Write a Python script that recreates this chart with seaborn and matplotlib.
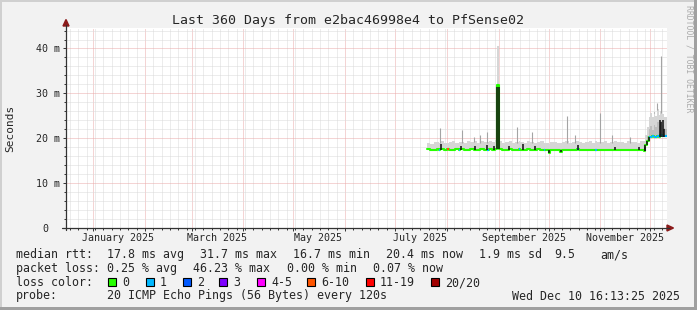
import datetime as dt
import numpy as np
import pandas as pd
import matplotlib
matplotlib.use("Agg")
import matplotlib.pyplot as plt
import matplotlib.dates as mdates
import matplotlib.ticker as mticker
from matplotlib.patches import Rectangle, Polygon
from matplotlib.lines import Line2D
from matplotlib.transforms import ScaledTranslation, blended_transform_factory
import seaborn as sns

# ---------------- data ----------------
sample_dates = [
    "2025-07-20", "2025-07-22", "2025-07-24", "2025-07-26", "2025-07-27", "2025-07-28",
    "2025-07-30", "2025-08-01", "2025-08-02", "2025-08-04", "2025-08-06", "2025-08-08",
    "2025-08-09", "2025-08-11", "2025-08-13", "2025-08-15", "2025-08-17", "2025-08-19",
    "2025-08-21", "2025-08-23", "2025-08-25", "2025-08-26", "2025-08-28", "2025-08-30",
    "2025-08-31", "2025-09-01", "2025-09-03", "2025-09-05", "2025-09-07", "2025-09-09",
    "2025-09-11", "2025-09-13", "2025-09-14", "2025-09-16", "2025-09-18", "2025-09-20",
    "2025-09-22", "2025-09-24", "2025-09-26", "2025-09-28", "2025-09-29", "2025-10-01",
    "2025-10-02", "2025-10-04", "2025-10-06", "2025-10-08", "2025-10-09", "2025-10-11",
    "2025-10-13", "2025-10-15", "2025-10-17", "2025-10-18", "2025-10-19", "2025-10-21",
    "2025-10-23", "2025-10-25", "2025-10-27", "2025-10-29", "2025-10-30", "2025-11-01",
    "2025-11-03", "2025-11-05", "2025-11-07", "2025-11-09", "2025-11-11", "2025-11-13",
    "2025-11-15", "2025-11-17", "2025-11-19", "2025-11-21", "2025-11-23", "2025-11-25",
    "2025-11-27", "2025-11-28", "2025-11-29", "2025-11-30", "2025-12-01", "2025-12-02",
    "2025-12-03", "2025-12-04", "2025-12-05", "2025-12-06", "2025-12-07", "2025-12-08",
    "2025-12-09", "2025-12-10",
]
median_ms = [
    17.5, 17.4, 17.4, 17.5, 17.4, 17.6,
    17.4, 17.5, 17.4, 17.4, 17.5, 17.4,
    17.5, 17.4, 17.4, 17.5, 17.4, 17.4,
    17.5, 17.4, 17.4, 17.5, 17.4, 17.6,
    31.8, 17.5, 17.4, 17.4, 17.5, 17.4,
    17.4, 17.5, 17.4, 17.4, 17.5, 17.4,
    17.4, 17.5, 17.4, 17.4, 17.3, 16.7,
    17.3, 17.4, 17.4, 16.9, 17.3, 17.4,
    17.4, 17.3, 17.4, 17.5, 17.4, 17.3,
    17.4, 17.4, 17.3, 17.4, 17.4, 17.3,
    17.4, 17.4, 17.4, 17.3, 17.4, 17.4,
    17.3, 17.4, 17.4, 17.3, 17.4, 17.3,
    17.2, 18.4, 19.4, 20.3, 20.3, 20.4,
    20.3, 20.3, 20.4, 20.3, 20.8, 20.4,
    20.4, 20.4,
]
smoke_top_ms = [
    19.0, 18.7, 19.1, 19.2, 19.0, 19.3,
    18.9, 19.0, 19.2, 19.4, 18.9, 19.1,
    19.2, 19.0, 19.3, 19.1, 19.4, 19.0,
    19.3, 19.2, 19.1, 19.4, 19.2, 19.5,
    40.6, 19.3, 19.0, 19.2, 19.4, 19.0,
    19.2, 19.3, 19.1, 19.0, 19.3, 19.2,
    18.9, 19.1, 19.3, 19.0, 19.0, 18.6,
    19.1, 19.2, 18.9, 18.8, 19.1, 19.3,
    19.0, 19.2, 19.3, 19.4, 19.1, 19.0,
    19.2, 19.3, 19.0, 19.4, 19.2, 19.1,
    19.3, 19.0, 19.2, 19.3, 19.1, 19.2,
    19.0, 19.3, 19.1, 19.2, 19.0, 19.4,
    19.3, 20.6, 22.5, 24.8, 25.5, 24.6,
    25.8, 25.0, 26.5, 25.2, 26.0, 25.4,
    24.8, 24.6,
]
loss_pings = [
    0, 0, 0, 0, 1, 0,
    0, 7, 0, 0, 0, 1,
    0, 0, 0, 0, 0, 0,
    0, 0, 1, 0, 0, 0,
    0, 0, 0, 0, 0, 0,
    0, 1, 0, 0, 0, 0,
    0, 0, 0, 1, 0, 0,
    0, 0, 0, 0, 0, 0,
    0, 0, 0, 1, 0, 0,
    0, 0, 0, 1, 0, 0,
    0, 0, 0, 0, 0, 0,
    0, 0, 0, 0, 0, 0,
    0, 0, 0, 1, 1, 1,
    1, 1, 1, 1, 1, 1,
    1, 1,
]
core_dates = ["2025-11-29", "2025-11-30", "2025-12-01", "2025-12-02", "2025-12-03", "2025-12-04",
              "2025-12-05", "2025-12-06", "2025-12-07", "2025-12-08", "2025-12-09", "2025-12-10"]
core_top_ms = [20.4, 22.0, 22.6, 21.8, 23.0, 22.4, 23.5, 22.8, 23.8, 23.0, 22.2, 22.0]

spike_dates = ["2025-07-28", "2025-08-10", "2025-08-17", "2025-08-21", "2025-08-25",
               "2025-09-12", "2025-09-21", "2025-10-12", "2025-10-17", "2025-11-01",
               "2025-11-08", "2025-11-19", "2025-12-03", "2025-12-05", "2025-12-07 08:00"]
spike_top_ms = [22.2, 21.8, 20.3, 20.6, 21.4, 22.5, 21.3, 25.0, 20.6, 25.5,
                20.6, 20.3, 25.8, 27.8, 38.3]

dark_dates = ["2025-07-28 12:00", "2025-08-09 08:00", "2025-08-17 18:00", "2025-08-24 20:00",
              "2025-08-29", "2025-08-31", "2025-09-01", "2025-09-07 12:00",
              "2025-09-15 12:00", "2025-09-22 16:00", "2025-10-01 12:00", "2025-10-08 12:00",
              "2025-10-18 12:00", "2025-11-10", "2025-11-24 10:00", "2025-11-27 12:00",
              "2025-11-28", "2025-11-29", "2025-11-30", "2025-12-06 12:00", "2025-12-07 12:00",
              "2025-12-08 12:00", "2025-12-09"]
dark_lo_ms = [17.4, 17.4, 17.4, 17.4, 17.4, 17.6, 17.5, 17.4, 17.4, 17.4, 16.6, 16.9,
              17.4, 17.4, 17.3, 17.2, 17.2, 18.4, 19.4, 20.3, 20.3, 20.3, 20.3]
dark_hi_ms = [18.6, 18.3, 18.2, 18.4, 18.3, 31.5, 31.5, 18.2, 18.6, 18.2, 17.4, 17.4,
              18.4, 18.0, 18.0, 18.0, 18.4, 19.4, 20.3, 24.0, 23.5, 24.0, 22.0]

loss_labels = ["0", "1", "2", "3", "4-5", "6-10", "11-19", "20/20"]
loss_colors = ["#26ff00", "#00b8ff", "#0059ff", "#7e00ff", "#ff00ff", "#ff5500", "#ff0000", "#a10000"]
loss_upper = [0, 1, 2, 3, 5, 10, 19, 20]

month_labels = ["January 2025", "March 2025", "May 2025", "July 2025", "September 2025", "November 2025"]
month_label_dates = ["2025-01-16", "2025-03-16", "2025-05-16", "2025-07-16", "2025-09-16", "2025-11-16"]
ytick_values = [0, 10, 20, 30, 40]
ytick_labels = ["0", "10 m", "20 m", "30 m", "40 m"]

title = "Last 360 Days from e2bac46998e4 to PfSense02"
line_rtt = [("median rtt:", 16), ("17.8 ms avg", 107.3), ("31.7 ms max", 200),
            ("16.7 ms min", 293.3), ("20.4 ms now", 386), ("1.9 ms sd", 479.3),
            ("9.5", 554), ("am/s", 600)]
line_loss = [("packet loss:", 16), ("0.25 % avg", 107.3), ("46.23 % max", 193.5),
             ("0.00 % min", 286.7), ("0.07 % now", 373.3)]
probe_text = "20 ICMP Echo Pings (56 Bytes) every 120s"
stamp_text = "Wed Dec 10 16:13:25 2025"


def to_dt(s):
    return pd.to_datetime(s, format="mixed")


# ---------------- style ----------------
sns.set_style("white")
plt.rcParams["font.family"] = ["DejaVu Sans Mono", "DejaVu Sans"]

W, H = 697, 310
BG = "#F2F2F2"
AXIS = "#333333"
ARROW = "#8B1A1A"
GRID = "#DADADA"
MGRID = "#EBAAAA"
SMOKE = "#D6D6D6"
TXT = 8.4


def fx(px):
    return px / W


def fy(py):
    return 1 - py / H


fig = plt.figure(figsize=(W / 100, H / 100), dpi=100, facecolor=BG)
X0, X1, Y0, Y1 = 66, 666.5, 227.7, 28
ax = fig.add_axes([fx(X0), fy(Y0), (X1 - X0) / W, (Y0 - Y1) / H])
ax.set_facecolor("white")
t_start = dt.datetime(2024, 12, 15, 16, 13, 25)
t_end = dt.datetime(2025, 12, 10, 16, 13, 25)
for s in ax.spines.values():
    s.set_visible(False)

# ---------------- data marks ----------------
d = list(to_dt(sample_dates))
d_ext = d + [pd.Timestamp(t_end)]
med = np.array(median_ms)
top = np.array(smoke_top_ms)
med_ext = np.r_[med, med[-1]]
top_ext = np.r_[top, top[-1]]
ax.fill_between(d_ext, med_ext - 0.15, top_ext, step="post", color=SMOKE, lw=0, zorder=2)

cd_list = list(to_dt(core_dates))
cd = cd_list + [pd.Timestamp(t_end)]
core = np.array(core_top_ms)
core_base = np.array([med[d.index(c)] for c in cd_list])
ax.fill_between(cd, np.r_[core_base, core_base[-1]], np.r_[core, core[-1]], step="post",
                color="#BDBDBD", lw=0, zorder=2.1)

sd = to_dt(spike_dates)
idx = np.searchsorted(np.array(d, dtype="datetime64[ns]"), sd.values, side="right") - 1
ax.vlines(sd, top[idx] - 0.3, spike_top_ms, color="#A4A4A4", lw=0.8, zorder=2.2)

med_df = pd.DataFrame({"t": d_ext, "ms": med_ext})
sns.lineplot(data=med_df, x="t", y="ms", drawstyle="steps-post", color=loss_colors[0],
             lw=1.5, ax=ax, zorder=4)


def loss_color(n):
    for up, c in zip(loss_upper, loss_colors):
        if n <= up:
            return c
    return loss_colors[-1]


for i, n in enumerate(loss_pings):
    if n > 0:
        ax.hlines(med[i], d_ext[i], d_ext[i + 1], color=loss_color(n), lw=1.5, zorder=5)

ax.vlines(to_dt(dark_dates), dark_lo_ms, dark_hi_ms, color="#151515", lw=1.15, zorder=6)

ax.set_xlabel("")
ax.set_ylabel("")
ax.set_xlim(t_start, t_end)
ax.set_ylim(0, (Y0 - Y1) / 4.48)

# ---------------- grid & ticks ----------------
month_starts = pd.date_range("2025-01-01", "2025-12-01", freq="MS")
five_days = pd.date_range("2024-12-18", "2025-12-12", freq="5D")
ax.xaxis.set_major_locator(mticker.FixedLocator(mdates.date2num(month_starts)))
ax.xaxis.set_minor_locator(mticker.FixedLocator(mdates.date2num(five_days)))
ax.xaxis.set_major_formatter(mticker.NullFormatter())
ax.xaxis.set_minor_formatter(mticker.NullFormatter())
ax.yaxis.set_major_locator(mticker.FixedLocator(ytick_values))
ax.yaxis.set_minor_locator(mticker.FixedLocator([v for v in range(2, 45, 2) if v % 10]))
ax.grid(which="minor", color=GRID, ls=(0, (1, 1)), lw=0.72)
ax.grid(which="major", color=MGRID, ls=(0, (1, 1)), lw=0.72)
ax.set_axisbelow(True)
ax.tick_params(which="major", direction="out", length=2.2, width=0.7, color=AXIS,
               labelsize=7.2, pad=2.2, left=True, bottom=True, labelbottom=False)
ax.tick_params(which="minor", direction="out", length=1.4, width=0.7, color=AXIS,
               left=True, bottom=True)
ax.set_yticklabels(ytick_labels, fontfamily="DejaVu Sans Mono", fontsize=7.2)
for lab in ax.get_yticklabels():
    if lab.get_text() == "0":
        lab.set_transform(lab.get_transform() + ScaledTranslation(-12 / 100, 0, fig.dpi_scale_trans))

# x labels (mid-month, every two months)
trans = blended_transform_factory(ax.transData, ax.transAxes)
for lab, dd in zip(month_labels, month_label_dates):
    ax.text(pd.Timestamp(dd), (Y0 - 238) / (Y0 - Y1), lab, transform=trans, ha="center",
            va="center", fontsize=7.2)

# ---------------- axes lines and arrows ----------------
fig.add_artist(Line2D([fx(62), fx(669)], [fy(228), fy(228)], color=AXIS, lw=0.9))
fig.add_artist(Line2D([fx(66), fx(66)], [fy(230), fy(25)], color=AXIS, lw=0.9))
fig.add_artist(Polygon([(fx(667), fy(225)), (fx(667), fy(231)), (fx(673.5), fy(228))],
                       closed=True, color=ARROW, transform=fig.transFigure))
fig.add_artist(Polygon([(fx(63), fy(26)), (fx(69), fy(26)), (fx(66), fy(19.5))],
                       closed=True, color=ARROW, transform=fig.transFigure))

# ---------------- texts ----------------
fig.text(fx(347.8), fy(24), title, ha="center", va="baseline", fontsize=9.5)
fig.text(fx(10), fy(128.5), "Seconds", rotation=90, ha="center", va="center", fontsize=8)
fig.text(fx(689), fy(5), "RRDTOOL / TOBI OETIKER", rotation=270, ha="center", va="top",
         fontsize=5.9, color="#ABABAB")

for txt, x in line_rtt:
    fig.text(fx(x), fy(258), txt, ha="left", va="baseline", fontsize=TXT)
for txt, x in line_loss:
    fig.text(fx(x), fy(272), txt, ha="left", va="baseline", fontsize=TXT)
fig.text(fx(16), fy(286), "loss color:", ha="left", va="baseline", fontsize=TXT)
sq_x = [108.3, 145.7, 182.7, 219.3, 256.7, 307.3, 365.7, 430.7]
for lab, col, x in zip(loss_labels, loss_colors, sq_x):
    fig.add_artist(Rectangle((fx(x), fy(285.7)), 8 / W, 8 / H, transform=fig.transFigure,
                             facecolor=col, edgecolor="black", lw=0.8))
    fig.text(fx(x + 14.4), fy(286), lab, ha="left", va="baseline", fontsize=TXT)
fig.text(fx(16), fy(299.5), "probe:", ha="left", va="baseline", fontsize=TXT)
fig.text(fx(107.3), fy(299.5), probe_text, ha="left", va="baseline", fontsize=TXT)
fig.text(fx(680), fy(299.5), stamp_text, ha="right", va="baseline", fontsize=TXT)

# ---------------- frame ----------------
fig.add_artist(Rectangle((0, fy(2)), 1, 2 / H, transform=fig.transFigure, color="#D0D0D0", lw=0))
fig.add_artist(Rectangle((0, 0), 2 / W, 1, transform=fig.transFigure, color="#D0D0D0", lw=0))
fig.add_artist(Rectangle((0, 0), 1, 3 / H, transform=fig.transFigure, color="#A0A0A0", lw=0))
fig.add_artist(Rectangle((fx(694), 0), 3 / W, 1, transform=fig.transFigure, color="#A0A0A0", lw=0))

fig.savefig("out.png", dpi=100, facecolor=BG)
